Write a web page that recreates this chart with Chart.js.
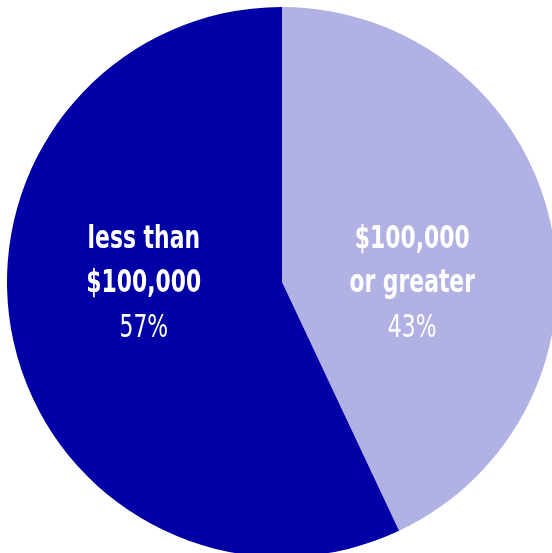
<!DOCTYPE html>
<html>
<head>
<meta charset="utf-8">
<script src="https://cdn.jsdelivr.net/npm/chart.js@4.4.0/dist/chart.umd.min.js"></script>
<style>
  html, body { margin: 0; padding: 0; background: #fff; }
  #wrap { width: 552px; height: 553px; overflow: hidden; position: relative; }
  #myChart { position: absolute; left: 0; top: 0; }
</style>
</head>
<body>
<div id="wrap">
  <canvas id="myChart" width="564" height="564"></canvas>
</div>
<script>
// data, clockwise from the top
const categories = ["$100,000 or greater", "less than $100,000"];
const labelLines = [["$100,000", "or greater"], ["less than", "$100,000"]];
const shares = [43, 57];
const sliceColors = ["#b1b1e3", "#0000a6"];

// draws the text in the middle of each slice (squeezed a bit to look condensed)
const sliceLabels = {
  id: "sliceLabels",
  afterDatasetsDraw(chart) {
    const ctx = chart.ctx;
    const meta = chart.getDatasetMeta(0);
    meta.data.forEach((arc, i) => {
      const p = arc.getProps(["x", "y", "startAngle", "endAngle", "outerRadius"], true);
      const mid = (p.startAngle + p.endAngle) / 2;
      const lx = p.x + Math.cos(mid) * p.outerRadius * 0.5 - 4;
      const ly = p.y + 2;
      const lines = labelLines[i];
      ctx.save();
      ctx.translate(lx, ly);
      ctx.scale(0.76, 1);
      ctx.fillStyle = "#ffffff";
      ctx.textAlign = "center";
      ctx.textBaseline = "middle";
      ctx.font = "bold 32px 'DejaVu Sans Condensed', sans-serif";
      ctx.fillText(lines[0], 0, -44);
      ctx.fillText(lines[1], 0, 0);
      ctx.font = "32px 'DejaVu Sans Condensed', sans-serif";
      ctx.fillText(shares[i] + "%", 0, 45);
      ctx.restore();
    });
  }
};

const ctx = document.getElementById("myChart");
const chart = new Chart(ctx, {
  type: "pie",
  data: {
    labels: categories,
    datasets: [{
      data: shares,
      backgroundColor: sliceColors,
      borderWidth: 0
    }]
  },
  options: {
    responsive: false,
    animation: false,
    layout: { padding: 7 },
    plugins: {
      legend: { display: false },
      tooltip: { enabled: false }
    }
  },
  plugins: [sliceLabels]
});
</script>
</body>
</html>
